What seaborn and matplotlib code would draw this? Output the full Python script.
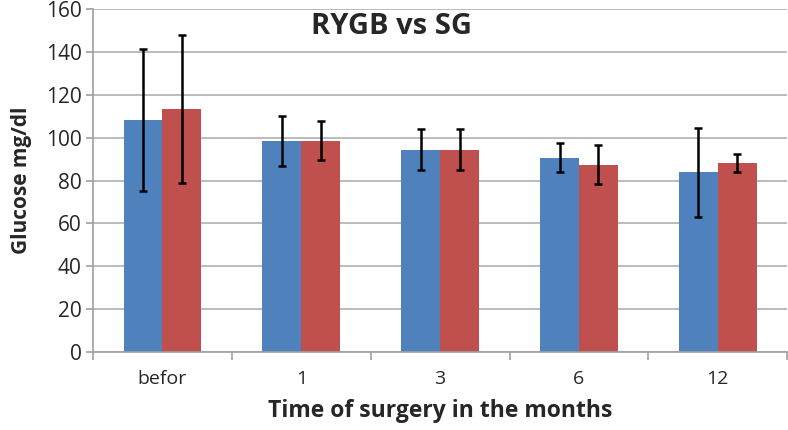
import matplotlib
matplotlib.use("Agg")
import matplotlib.pyplot as plt
import numpy as np
import pandas as pd
import seaborn as sns

# values
months = ["befor", "1", "3", "6", "12"]
groups = ["RYGB", "SG"]
rygb_mean = [108.2, 98.5, 94.5, 90.6, 83.8]
rygb_sd = [33.0, 11.8, 9.4, 6.8, 20.8]
sg_mean = [113.3, 98.5, 94.5, 87.3, 88.3]
sg_sd = [34.4, 9.1, 9.7, 9.1, 4.2]

colors = ["#4F81BD", "#C0504D"]

df = pd.DataFrame({
    "month": months * 2,
    "group": [groups[0]] * len(months) + [groups[1]] * len(months),
    "glucose": rygb_mean + sg_mean,
    "sd": rygb_sd + sg_sd,
})

sns.set_style("white")
plt.rcParams["font.family"] = ["Open Sans", "DejaVu Sans"]

fig = plt.figure(figsize=(7.88, 4.30), dpi=100)
ax = fig.add_axes([0.118, 0.181, 0.881, 0.798])

sns.barplot(data=df, x="month", y="glucose", hue="group", order=months,
            hue_order=groups, palette=colors, errorbar=None, width=0.56,
            saturation=1, linewidth=0, ax=ax, legend=False, zorder=2)

# error bars at the bar centres
for cont, g in zip(ax.containers, groups):
    sub = df[df["group"] == g].set_index("month").loc[months]
    xs = [b.get_x() + b.get_width() / 2 for b in cont]
    ax.errorbar(xs, sub["glucose"], yerr=sub["sd"], fmt="none", ecolor="black",
                elinewidth=1.8, capsize=3.2, capthick=1.8, zorder=3)

ax.set_xlim(-0.5, len(months) - 0.5)
ax.set_ylim(0, 160)
ax.set_yticks(np.arange(0, 161, 20))
ax.yaxis.grid(True, color="#b0b0b0", linewidth=1.2, zorder=0)
ax.set_axisbelow(True)

for s in ["top", "right"]:
    ax.spines[s].set_visible(False)
for s in ["left", "bottom"]:
    ax.spines[s].set_color("#a0a0a0")
    ax.spines[s].set_linewidth(1.2)

ax.set_xticks(np.arange(-0.5, len(months)), minor=True)
ax.tick_params(axis="x", which="major", length=0, pad=13, labelsize=14)
ax.tick_params(axis="x", which="minor", length=6, color="#a0a0a0", width=1.2)
ax.tick_params(axis="y", length=5, color="#a0a0a0", width=1.2, labelsize=15, pad=3)
ax.tick_params(left=True, bottom=False)
ax.tick_params(axis="x", which="minor", bottom=True)

ax.set_xlabel("Time of surgery in the months", fontsize=16.5, fontweight="bold", labelpad=8)
ax.set_ylabel("Glucose mg/dl", fontsize=15, fontweight="bold", labelpad=10)
ax.text(0.43, 0.95, "RYGB vs SG", transform=ax.transAxes, ha="center", va="center",
        fontsize=21, fontweight="bold")

fig.savefig("out.png", dpi=100)
